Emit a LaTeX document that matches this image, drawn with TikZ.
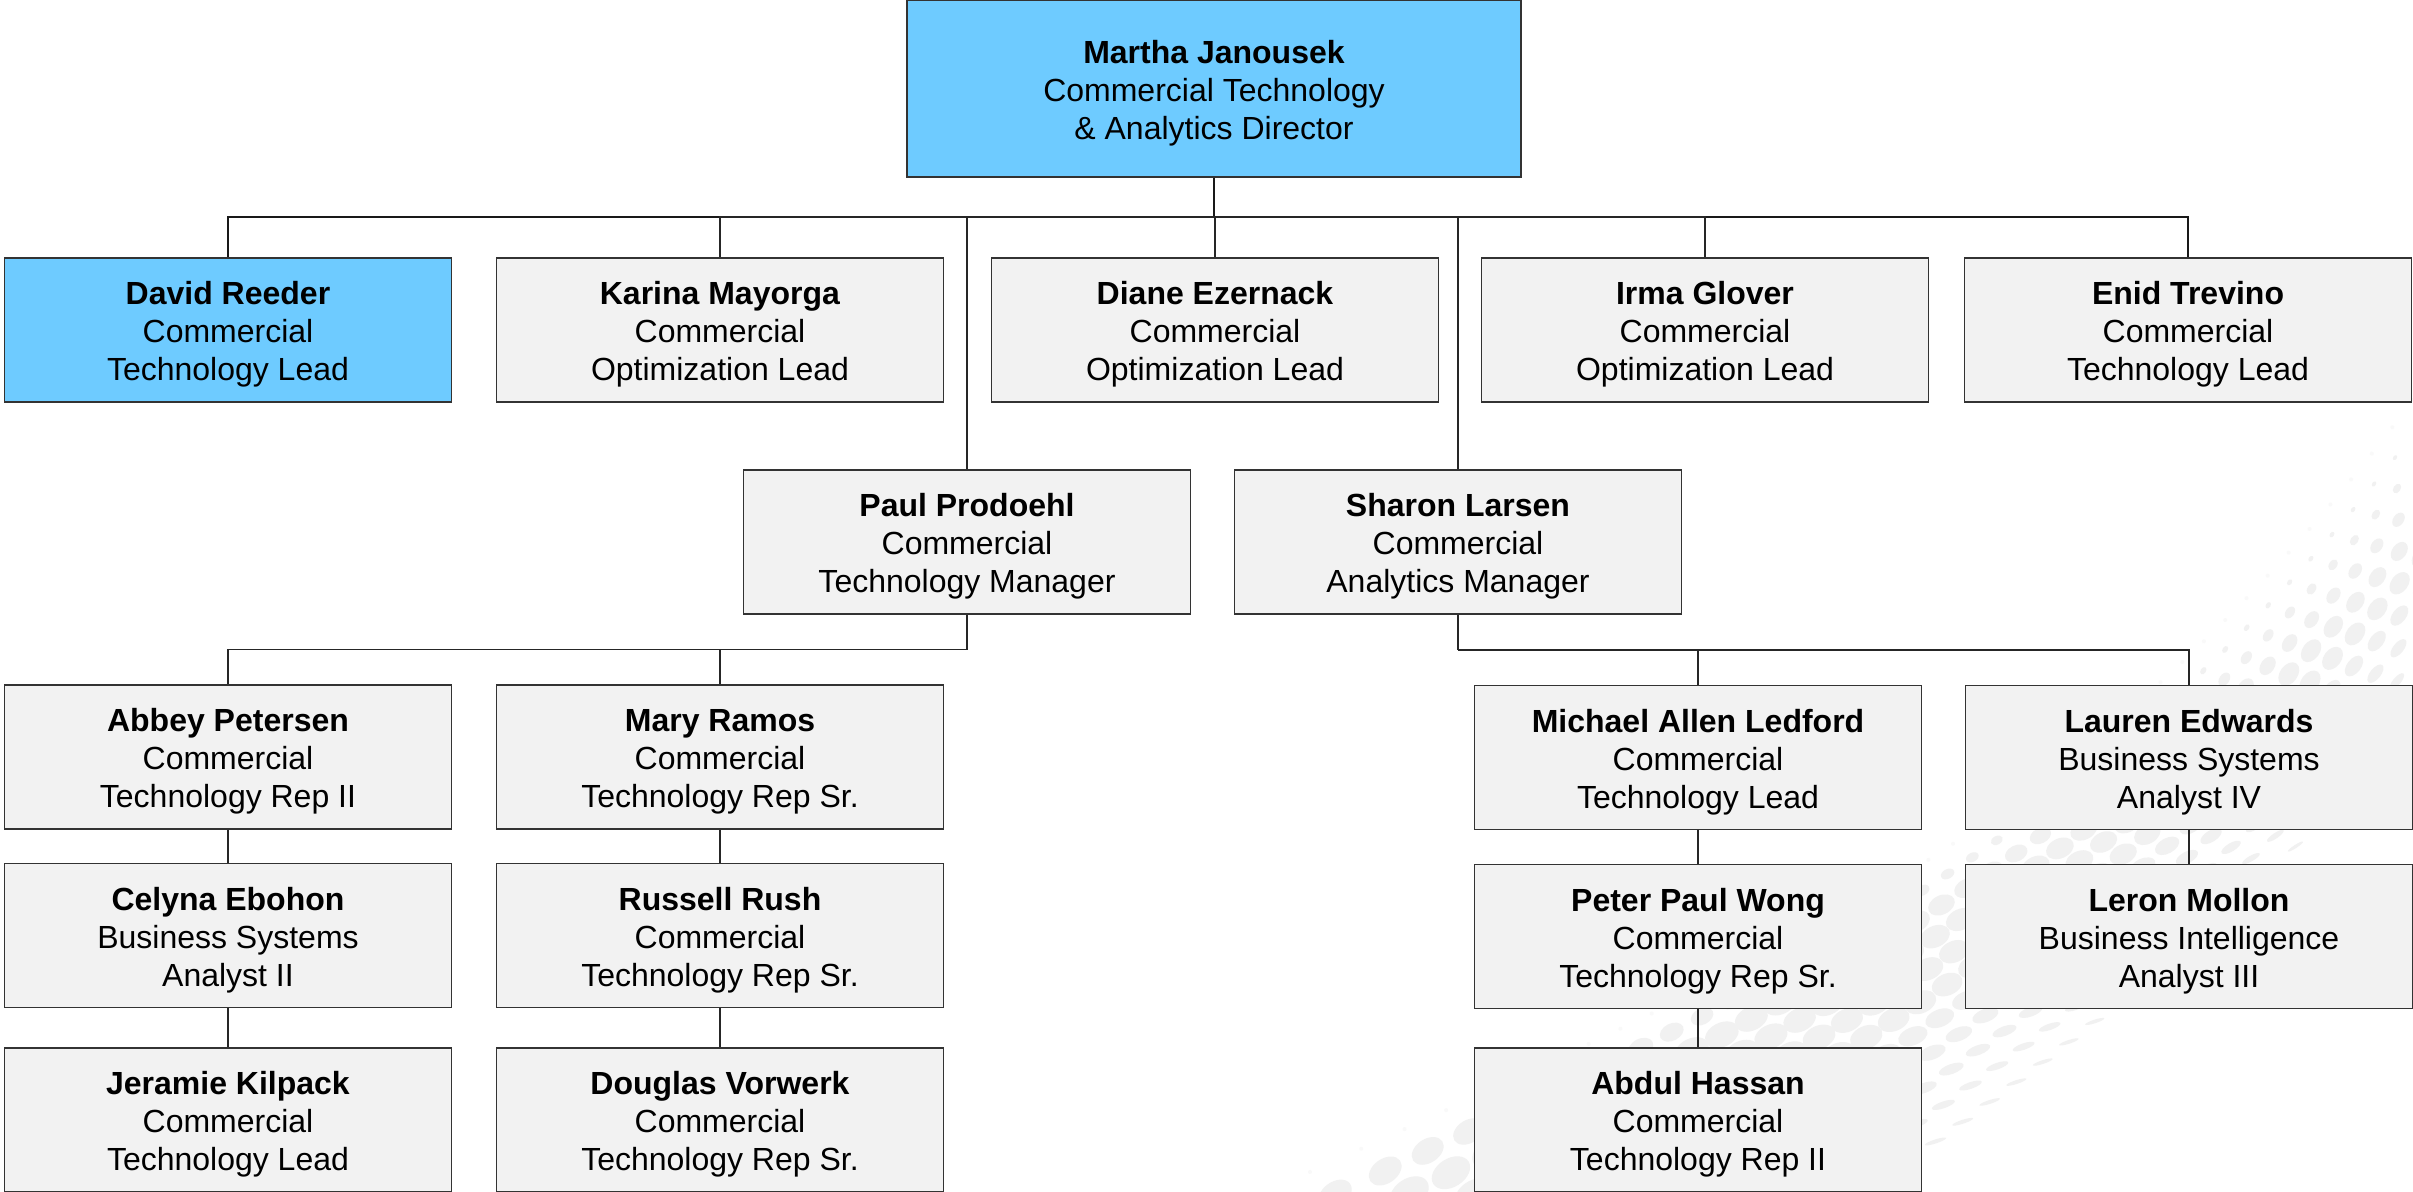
\documentclass[tikz,border=0pt]{standalone}
\usepackage{fontspec}
\setmainfont{Liberation Sans}
\definecolor{boxgray}{HTML}{F2F2F2}
\definecolor{boxblue}{HTML}{6ECBFF}
\definecolor{edgeline}{HTML}{333333}
\definecolor{swirlA}{HTML}{F1F1F1}
\definecolor{swirlB}{HTML}{F9F9F9}
\newcommand\pname[1]{\rule{0pt}{16pt}\textbf{#1}}
\tikzset{
  personbox/.style={draw=edgeline,line width=0.65pt,align=center,inner sep=0pt,
    minimum width=223.5pt,minimum height=72pt,
    font=\fontsize{16}{19}\selectfont},
  graybox/.style={personbox,fill=boxgray},
  bluebox/.style={personbox,fill=boxblue},
  link/.style={draw=black!85,line width=0.75pt},
  trunk/.style={draw=black!90,line width=0.9pt}
}
\begin{document}
\begin{tikzpicture}[x=0.5pt,y=-0.5pt]
\useasboundingbox (0,0) rectangle (2413,1192);
\fill[white] (0,0) rectangle (2413,1192);
% background swirl of dots
\begin{scope}
\clip (0,0) rectangle (2413,1192);
\foreach \i in {0,...,41}{
  \foreach \j in {0,...,10}{
    \pgfmathsetmacro\s{pow(max(\i,0.001)/41,0.9)}
    \pgfmathsetmacro\t{\j/10}
    \pgfmathsetmacro\a{(1-\s)*(1-\s)*(1-\s)}
    \pgfmathsetmacro\b{3*\s*(1-\s)*(1-\s)}
    \pgfmathsetmacro\c{3*\s*\s*(1-\s)}
    \pgfmathsetmacro\d{\s*\s*\s}
    \pgfmathsetmacro\ex{\a*1310+\b*1800+\c*2100+\d*2413}
    \pgfmathsetmacro\ey{\a*1172+\b*950+\c*820+\d*400}
    \pgfmathsetmacro\lx{\a*1560+\b*1950+\c*2300+\d*2650}
    \pgfmathsetmacro\ly{\a*1400+\b*1130+\c*930+\d*430}
    \pgfmathsetmacro\px{\ex+(\lx-\ex)*\t}
    \pgfmathsetmacro\py{\ey+(\ly-\ey)*\t}
    \pgfmathsetmacro\J{1.2+4.5*\s*\s}
    \pgfmathsetmacro\R{22-17*\s+7*\s*\s}
    \pgfmathsetmacro\grow{pow(min(1,\j/\J),0.9)}
    \pgfmathsetmacro\fall{1-0.7*max(0,\t-0.5)}
    \pgfmathsetmacro\rx{max(2,\R*\grow*\fall)}
    \pgfmathsetmacro\asp{\t<0.5?0.68:0.68-1.0*(\t-0.5)}
    \pgfmathsetmacro\ry{\j==0?2:max(1.2,\rx*\asp)}
    \pgfmathsetmacro\sm{min(1,max(0,(\s-0.58)/0.17))}
    \pgfmathsetmacro\ang{(\s<0.2?38-50*\s:28)+30*\sm-10*\t}
    \pgfmathsetmacro\ink{\j==0?0:100}
    \fill[swirlA!\ink!swirlB,shift={(\px,\py)},rotate=\ang] (0,0) ellipse [x radius=0.5*\rx pt,y radius=0.5*\ry pt];
  }
}
\end{scope}
% people
\node[bluebox,minimum width=307pt,minimum height=88.5pt] (martha) at (1214,88.5) {\pname{Martha Janousek}\\Commercial Technology\\\& Analytics Director};
\node[bluebox] (david) at (228,330) {\pname{David Reeder}\\Commercial\\Technology Lead};
\node[graybox] (karina) at (720,330) {\pname{Karina Mayorga}\\Commercial\\Optimization Lead};
\node[graybox] (diane) at (1215,330) {\pname{Diane Ezernack}\\Commercial\\Optimization Lead};
\node[graybox] (irma) at (1705,330) {\pname{Irma Glover}\\Commercial\\Optimization Lead};
\node[graybox] (enid) at (2188,330) {\pname{Enid Trevino}\\Commercial\\Technology Lead};
\node[graybox] (paul) at (967,542) {\pname{Paul Prodoehl}\\Commercial\\Technology Manager};
\node[graybox] (sharon) at (1458,542) {\pname{Sharon Larsen}\\Commercial\\Analytics Manager};
\node[graybox] (abbey) at (228,757) {\pname{Abbey Petersen}\\Commercial\\Technology Rep II};
\node[graybox] (celyna) at (228,935.5) {\pname{Celyna Ebohon}\\Business Systems\\Analyst II};
\node[graybox] (jeramie) at (228,1120) {\pname{Jeramie Kilpack}\\Commercial\\Technology Lead};
\node[graybox] (mary) at (720,757) {\pname{Mary Ramos}\\Commercial\\Technology Rep Sr.};
\node[graybox] (russell) at (720,935.5) {\pname{Russell Rush}\\Commercial\\Technology Rep Sr.};
\node[graybox] (douglas) at (720,1120) {\pname{Douglas Vorwerk}\\Commercial\\Technology Rep Sr.};
\node[graybox] (michael) at (1698,757.5) {\pname{Michael Allen Ledford}\\Commercial\\Technology Lead};
\node[graybox] (peter) at (1698,936.5) {\pname{Peter Paul Wong}\\Commercial\\Technology Rep Sr.};
\node[graybox] (abdul) at (1698,1120) {\pname{Abdul Hassan}\\Commercial\\Technology Rep II};
\node[graybox] (lauren) at (2189,757.5) {\pname{Lauren Edwards}\\Business Systems\\Analyst IV};
\node[graybox] (leron) at (2189,936.5) {\pname{Leron Mollon}\\Business Intelligence\\Analyst III};
% connectors
\coordinate (topbus) at (martha.south |- 0,217);
\coordinate (leftbus) at (paul.south |- 0,649.5);
\coordinate (rightbus) at (sharon.south |- 0,650);
\draw[trunk] (martha.south) -- (topbus);
\draw[trunk] (topbus) -| (david.north);
\draw[trunk] (topbus) -| (enid.north);
\draw[link] (topbus) -| (karina.north);
\draw[link] (topbus) -| (diane.north);
\draw[link] (topbus) -| (irma.north);
\draw[link] (topbus) -| (paul.north);
\draw[link] (topbus) -| (sharon.north);
\draw[link] (paul.south) -- (leftbus);
\draw[link] (leftbus) -| (abbey.north);
\draw[link] (leftbus) -| (mary.north);
\draw[link] (sharon.south) -- (rightbus);
\draw[link] (rightbus) -| (michael.north);
\draw[link] (rightbus) -| (lauren.north);
\draw[link] (abbey) -- (celyna);
\draw[link] (celyna) -- (jeramie);
\draw[link] (mary) -- (russell);
\draw[link] (russell) -- (douglas);
\draw[link] (michael) -- (peter);
\draw[link] (peter) -- (abdul);
\draw[link] (lauren) -- (leron);
\end{tikzpicture}
\end{document}
